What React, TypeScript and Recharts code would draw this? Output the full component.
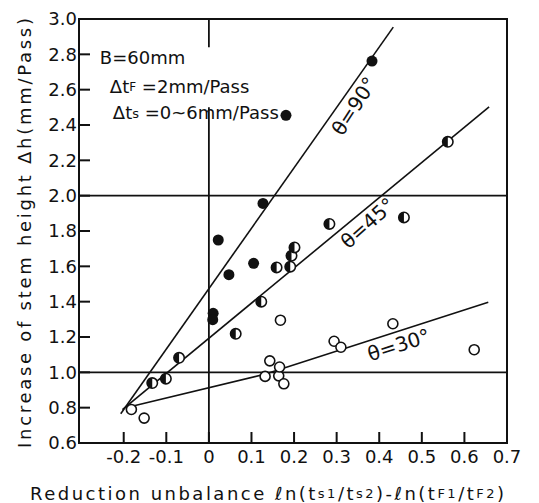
import {
  ScatterChart,
  Scatter,
  XAxis,
  YAxis,
  ReferenceLine,
  ReferenceArea,
  ReferenceDot,
} from "recharts";

const X_TICKS = [-0.2, -0.1, 0, 0.1, 0.2, 0.3, 0.4, 0.5, 0.6, 0.7];
const Y_TICKS = [0.6, 0.8, 1.0, 1.2, 1.4, 1.6, 1.8, 2.0, 2.2, 2.4, 2.6, 2.8, 3.0];

// θ=90° (filled circles)
const theta90 = [
  { x: 0.383, y: 2.762 },
  { x: 0.181, y: 2.455 },
  { x: 0.127, y: 1.956 },
  { x: 0.022, y: 1.749 },
  { x: 0.047, y: 1.553 },
  { x: 0.105, y: 1.617 },
  { x: 0.01, y: 1.334 },
  { x: 0.009, y: 1.298 },
];

// θ=45° (half filled)
const theta45 = [
  { x: -0.133, y: 0.939 },
  { x: -0.101, y: 0.964 },
  { x: -0.07, y: 1.082 },
  { x: 0.063, y: 1.218 },
  { x: 0.123, y: 1.4 },
  { x: 0.159, y: 1.594 },
  { x: 0.191, y: 1.598 },
  { x: 0.194, y: 1.66 },
  { x: 0.201, y: 1.707 },
  { x: 0.283, y: 1.84 },
  { x: 0.458, y: 1.877 },
  { x: 0.561, y: 2.305 },
];

// θ=30° (open circles)
const theta30 = [
  { x: -0.182, y: 0.79 },
  { x: -0.152, y: 0.741 },
  { x: 0.132, y: 0.977 },
  { x: 0.143, y: 1.065 },
  { x: 0.164, y: 0.98 },
  { x: 0.166, y: 1.03 },
  { x: 0.176, y: 0.935 },
  { x: 0.168, y: 1.295 },
  { x: 0.294, y: 1.176 },
  { x: 0.31, y: 1.142 },
  { x: 0.432, y: 1.275 },
  { x: 0.623, y: 1.128 },
];

// hand drawn fit lines
const fit90 = [
  { x: -0.207, y: 0.766 },
  { x: 0.433, y: 2.954 },
];
const fit45 = [
  { x: -0.203, y: 0.789 },
  { x: 0.658, y: 2.502 },
];
const fit30 = [
  { x: -0.183, y: 0.807 },
  { x: 0.133, y: 0.99 },
  { x: 0.656, y: 1.397 },
];

const INK = "#111";
const FONT = "DejaVu Sans, sans-serif";

const fmt = (v: number) => (v === 0 ? "0" : v.toFixed(1));

const Filled = (p: any) => <circle cx={p.cx} cy={p.cy} r={5.5} fill={INK} />;
const Open = (p: any) => (
  <circle cx={p.cx} cy={p.cy} r={5} fill="#fff" stroke={INK} strokeWidth={1.6} />
);
const Half = (p: any) => {
  const r = 5.2;
  return (
    <g>
      <circle cx={p.cx} cy={p.cy} r={r} fill="#fff" stroke={INK} strokeWidth={1.6} />
      <path
        d={`M${p.cx},${p.cy - r} A${r},${r} 0 0 0 ${p.cx},${p.cy + r} Z`}
        fill={INK}
      />
    </g>
  );
};
const NoDot = () => <g />;

const rotLabel = (text: string, angle: number) => (props: any) => {
  const vb = props.viewBox;
  const cx = vb.x + vb.width / 2;
  const cy = vb.y + vb.height / 2;
  return (
    <text
      x={cx}
      y={cy}
      textAnchor="middle"
      dominantBaseline="central"
      fontFamily={FONT}
      fontSize={20}
      fill={INK}
      transform={`rotate(${angle} ${cx} ${cy})`}
    >
      {text}
    </text>
  );
};

const infoBlock = (props: any) => {
  const vb = props.viewBox;
  const x = vb.x + vb.width / 2;
  const y = vb.y + vb.height / 2;
  return (
    <g fontFamily={FONT} fontSize={18} fill={INK}>
      <text x={x} y={y} dominantBaseline="central">B=60mm</text>
      <text x={x + 10} y={y + 29} dominantBaseline="central">
        Δt<tspan fontSize={12}>F</tspan> =2mm/Pass
      </text>
      <text x={x + 13} y={y + 55} dominantBaseline="central">
        Δt<tspan fontSize={13}>s</tspan> =0~6mm/Pass
      </text>
    </g>
  );
};

export default function App() {
  return (
    <div style={{ position: "absolute", left: 0, top: 0, background: "#fff" }}>
      <ScatterChart
        width={539}
        height={503}
        margin={{ top: 19, right: 32, bottom: 0, left: 0 }}
      >
        <XAxis
          type="number"
          dataKey="x"
          domain={[-0.305, 0.7]}
          ticks={X_TICKS}
          tickFormatter={fmt}
          allowDataOverflow
          height={60}
          tickSize={-11}
          tickMargin={18}
          stroke={INK}
          strokeWidth={2}
          tick={{ fill: INK, fontSize: 18, fontFamily: FONT }}
          label={(p: any) => {
            const vb = p.viewBox;
            const cx = vb.x + vb.width / 2 - 26;
            return (
              <text
                x={cx}
                y={vb.y + 50}
                textAnchor="middle"
                dominantBaseline="central"
                fontFamily={FONT}
                fontSize={18}
                fill={INK}
                textLength={474}
                lengthAdjust="spacing"
              >
                Reduction unbalance ℓn(t<tspan fontSize={13}>s1</tspan>/t
                <tspan fontSize={13}>s2</tspan>)-ℓn(t<tspan fontSize={13}>F1</tspan>/t
                <tspan fontSize={13}>F2</tspan>)
              </text>
            );
          }}
        />
        <YAxis
          type="number"
          dataKey="y"
          domain={[0.6, 3.0]}
          ticks={Y_TICKS}
          tickFormatter={(v: number) => v.toFixed(1)}
          allowDataOverflow
          width={79}
          tickSize={-11}
          tickMargin={13}
          stroke={INK}
          strokeWidth={2}
          tick={{ fill: INK, fontSize: 18, fontFamily: FONT }}
          label={(p: any) => {
            const vb = p.viewBox;
            const cx = 24;
            const cy = vb.y + vb.height / 2 + 2;
            return (
              <text
                x={cx}
                y={cy}
                textAnchor="middle"
                dominantBaseline="central"
                fontFamily={FONT}
                fontSize={18}
                fill={INK}
                textLength={430}
                lengthAdjust="spacing"
                transform={`rotate(-90 ${cx} ${cy})`}
              >
                Increase of stem height Δh(mm/Pass)
              </text>
            );
          }}
        />
        <ReferenceArea
          x1={-0.305}
          x2={0.7}
          y1={0.6}
          y2={3.0}
          fill="none"
          stroke={INK}
          strokeWidth={2}
          fillOpacity={0}
        />
        <ReferenceLine y={2.0} stroke={INK} strokeWidth={1.8} />
        <ReferenceLine y={1.0} stroke={INK} strokeWidth={1.8} />
        <ReferenceLine
          segment={[{ x: 0, y: 3.0 }, { x: 0, y: 2.84 }]}
          stroke={INK}
          strokeWidth={1.8}
        />
        <ReferenceLine
          segment={[{ x: 0, y: 2.5 }, { x: 0, y: 0.6 }]}
          stroke={INK}
          strokeWidth={1.8}
        />
        <Scatter data={fit90} line={{ stroke: INK, strokeWidth: 1.6 }} shape={NoDot} isAnimationActive={false} />
        <Scatter data={fit45} line={{ stroke: INK, strokeWidth: 1.6 }} shape={NoDot} isAnimationActive={false} />
        <Scatter data={fit30} line={{ stroke: INK, strokeWidth: 1.6 }} shape={NoDot} isAnimationActive={false} />
        <Scatter data={theta30} shape={Open} isAnimationActive={false} />
        <Scatter data={theta45} shape={Half} isAnimationActive={false} />
        <Scatter data={theta90} shape={Filled} isAnimationActive={false} />
        <ReferenceDot x={0.341} y={2.507} r={1} fill="none" stroke="none" label={rotLabel("θ=90°", -57)} />
        <ReferenceDot x={0.373} y={1.845} r={1} fill="none" stroke="none" label={rotLabel("θ=45°", -42)} />
        <ReferenceDot x={0.446} y={1.155} r={1} fill="none" stroke="none" label={rotLabel("θ=30°", -18)} />
        <ReferenceDot x={-0.256} y={2.78} r={1} fill="none" stroke="none" label={infoBlock} />
      </ScatterChart>
    </div>
  );
}
